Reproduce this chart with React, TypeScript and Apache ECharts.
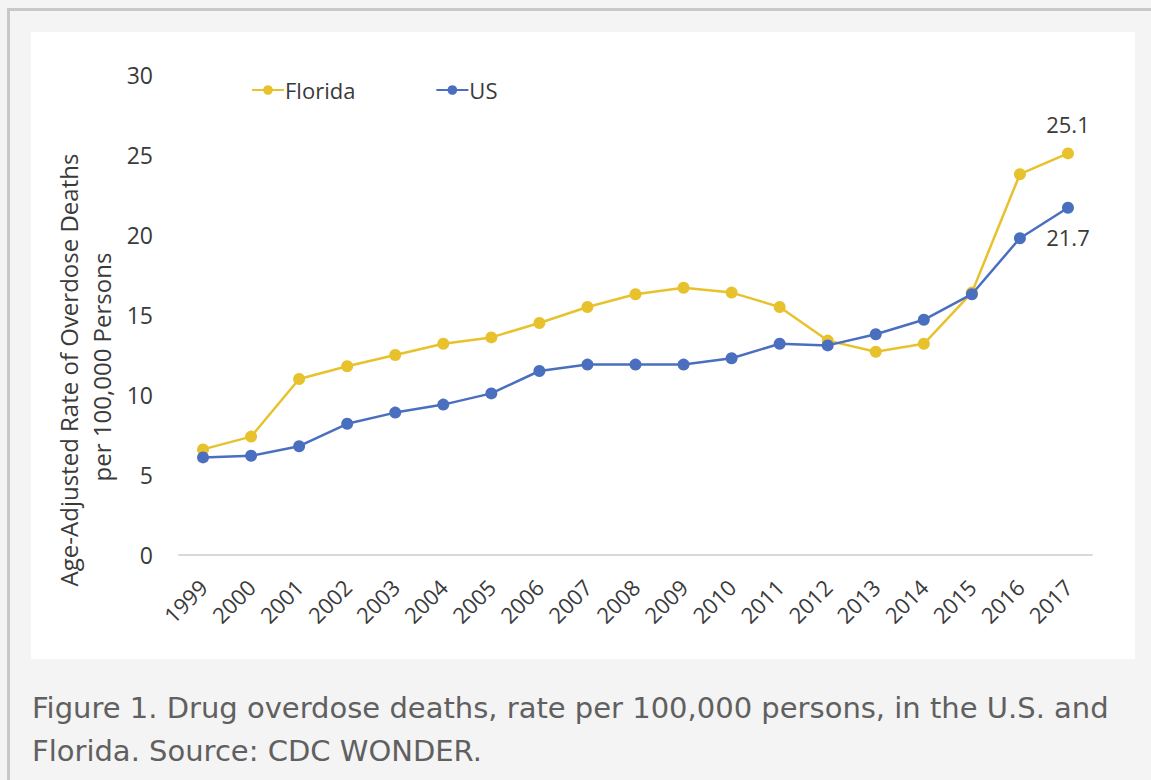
import React, { useEffect, useRef } from "react";
import * as echarts from "echarts";

const years = ["1999", "2000", "2001", "2002", "2003", "2004", "2005", "2006", "2007", "2008", "2009", "2010", "2011", "2012", "2013", "2014", "2015", "2016", "2017"];
const florida = [6.6, 7.4, 11.0, 11.8, 12.5, 13.2, 13.6, 14.5, 15.5, 16.3, 16.7, 16.4, 15.5, 13.4, 12.7, 13.2, 16.4, 23.8, 25.1];
const us = [6.1, 6.2, 6.8, 8.2, 8.9, 9.4, 10.1, 11.5, 11.9, 11.9, 11.9, 12.3, 13.2, 13.1, 13.8, 14.7, 16.3, 19.8, 21.7];
const yTitle = ["Age-Adjusted Rate of Overdose Deaths", "per 100,000 Persons"];
const caption = [
  "Figure 1. Drug overdose deaths, rate per 100,000 persons, in the U.S. and",
  "Florida. Source: CDC WONDER.",
];

const FL_COLOR = "#e8c22c";
const US_COLOR = "#4a6fbf";
const FONT = "'Open Sans', sans-serif";
const TEXT = "#3a3a3a";

export default function App() {
  const ref = useRef<HTMLDivElement>(null);
  useEffect(() => {
    if (!ref.current) return;
    const chart = echarts.init(ref.current, undefined, { renderer: "svg" });
    const lastLabel = (arr: number[], pos: string) =>
      arr.map((v, i) =>
        i === arr.length - 1
          ? {
              value: v,
              label: {
                show: true,
                position: pos,
                distance: 12,
                fontSize: 22,
                fontFamily: FONT,
                color: TEXT,
                formatter: (p: any) => p.value.toFixed(1),
              },
            }
          : v
      );
    chart.setOption({
      animation: false,
      backgroundColor: "#f4f4f4",
      graphic: [
        {
          type: "rect",
          z: -10,
          shape: { x: 8.5, y: 9.5, width: 1300, height: 900 },
          style: { fill: "#f4f4f4", stroke: "#c8c8c8", lineWidth: 3 },
        },
        {
          type: "rect",
          z: -9,
          shape: { x: 31, y: 32, width: 1104, height: 627 },
          style: { fill: "#ffffff" },
        },
        {
          type: "text",
          x: 68,
          y: 370,
          rotation: Math.PI / 2,
          style: {
            text: yTitle[0],
            font: `24px ${FONT}`,
            fill: TEXT,
            align: "center",
            verticalAlign: "middle",
          },
        },
        {
          type: "text",
          x: 101,
          y: 367,
          rotation: Math.PI / 2,
          style: {
            text: yTitle[1],
            font: `24px ${FONT}`,
            fill: TEXT,
            align: "center",
            verticalAlign: "middle",
          },
        },
        {
          type: "text",
          x: 32,
          y: 708,
          style: {
            text: caption[0],
            font: `29px 'DejaVu Sans', sans-serif`,
            fill: "#606060",
            align: "left",
            verticalAlign: "middle",
          },
        },
        {
          type: "text",
          x: 32,
          y: 751,
          style: {
            text: caption[1],
            font: `29px 'DejaVu Sans', sans-serif`,
            fill: "#606060",
            align: "left",
            verticalAlign: "middle",
          },
        },
      ],
      legend: {
        left: 246,
        top: 74,
        itemWidth: 32,
        itemHeight: 12,
        itemGap: 80,
        textStyle: { fontSize: 22, fontFamily: FONT, color: TEXT, padding: [0, 0, 0, -4] },
        data: ["Florida", "US"],
      },
      grid: {
        left: 179,
        right: 59,
        top: 75,
        bottom: 225,
        containLabel: false,
        outerBoundsMode: "none",
      },
      xAxis: {
        type: "category",
        data: years,
        boundaryGap: true,
        axisLine: { show: true, lineStyle: { color: "#d9d9d9", width: 2 } },
        axisTick: { show: false },
        axisLabel: {
          rotate: 45,
          margin: 28,
          fontSize: 22,
          fontFamily: FONT,
          color: TEXT,
          interval: 0,
        },
      },
      yAxis: {
        type: "value",
        min: 0,
        max: 30,
        interval: 5,
        axisLine: { show: false },
        axisTick: { show: false },
        splitLine: { show: false },
        axisLabel: { margin: 26, fontSize: 23, fontFamily: FONT, color: TEXT },
      },
      series: [
        {
          name: "Florida",
          type: "line",
          data: lastLabel(florida, "top"),
          symbol: "circle",
          symbolSize: 12,
          itemStyle: { color: FL_COLOR },
          lineStyle: { color: FL_COLOR, width: 2.5 },
          z: 2,
        },
        {
          name: "US",
          type: "line",
          data: lastLabel(us, "bottom"),
          symbol: "circle",
          symbolSize: 12,
          itemStyle: { color: US_COLOR },
          lineStyle: { color: US_COLOR, width: 2.5 },
          z: 3,
        },
      ],
    });
    return () => chart.dispose();
  }, []);
  return (
    <div
      ref={ref}
      style={{ position: "fixed", left: 0, top: 0, width: 1151, height: 780 }}
    />
  );
}
